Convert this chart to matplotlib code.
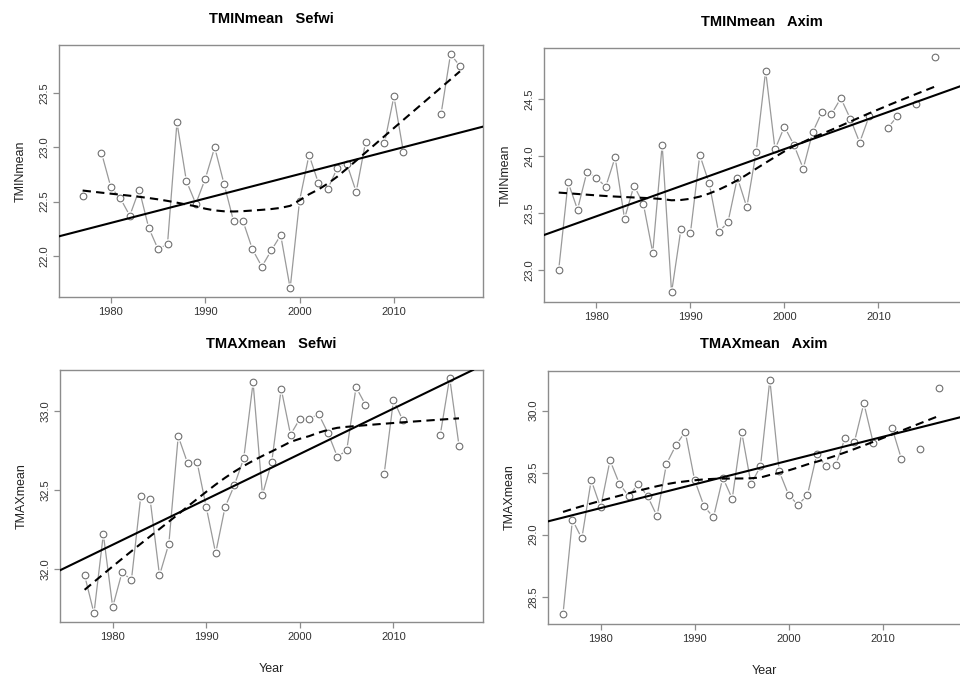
import numpy as np
import matplotlib.pyplot as plt

plt.rcParams['font.family'] = ['Liberation Sans', 'DejaVu Sans']

years = np.arange(1976, 2018)
nan = np.nan

# Sefwi, 1976..2017
tmin_sefwi = [nan, 22.55, nan, 22.95, 22.63, 22.53, 22.37, 22.61, 22.26, 22.06,
              22.11, 23.23, 22.69, 22.48, 22.71, 23.00, 22.66, 22.32, 22.32, 22.06,
              21.90, 22.05, 22.19, 21.70, 22.51, 22.93, 22.67, 22.62, 22.81, 22.85,
              22.59, 23.05, nan, 23.04, 23.47, 22.96, nan, nan, nan, 23.31,
              23.86, 23.75]
tmax_sefwi = [nan, 31.96, 31.72, 32.22, 31.76, 31.98, 31.93, 32.46, 32.44, 31.96,
              32.16, 32.84, 32.67, 32.68, 32.39, 32.10, 32.39, 32.53, 32.70, 33.18,
              32.47, 32.68, 33.14, 32.85, 32.95, 32.95, 32.98, 32.86, 32.71, 32.75,
              33.15, 33.04, nan, 32.60, 33.07, 32.94, nan, nan, nan, 32.85,
              33.21, 32.78]
# Axim, 1976..2017
tmin_axim = [23.00, 23.77, 23.53, 23.86, 23.81, 23.73, 23.99, 23.45, 23.74, 23.58,
             23.15, 24.10, 22.80, 23.36, 23.32, 24.01, 23.76, 23.33, 23.42, 23.81,
             23.55, 24.04, 24.75, 24.06, 24.26, 24.10, 23.89, 24.21, 24.39, 24.37,
             24.51, 24.33, 24.12, 24.35, nan, 24.25, 24.35, nan, 24.46, nan,
             24.87, nan]
tmax_axim = [28.36, 29.12, 28.97, 29.44, 29.22, 29.60, 29.41, 29.31, 29.41, 29.31,
             29.15, 29.57, 29.72, 29.83, 29.44, 29.23, 29.14, 29.46, 29.29, 29.83,
             29.41, 29.55, 30.25, 29.51, 29.32, 29.24, 29.32, 29.65, 29.55, 29.56,
             29.78, 29.75, 30.06, 29.74, nan, 29.86, 29.61, nan, 29.69, nan,
             30.18, nan]

xtick_years = [1980, 1990, 2000, 2010]


def lowess(x, y, f=2 / 3, it=3):
    # robust local-linear smoother, like R's lowess()
    n = len(x)
    ns = max(2, min(n, int(f * n + 1e-7)))
    rw = np.ones(n)
    fit = np.empty(n)
    for k in range(it + 1):
        for i, x0 in enumerate(x):
            d = np.abs(x - x0)
            h = np.sort(d)[ns - 1]
            w = np.where(d <= 0.999 * h, (1 - (d / h) ** 3) ** 3, 0.0)
            w[d <= 0.001 * h] = 1.0
            w = w * rw
            w = w / w.sum()
            xm = np.sum(w * x)
            b = np.sum(w * (x - xm) ** 2)
            if b > 1e-7 * (x.max() - x.min()) ** 2:
                slope = np.sum(w * (x - xm) * y) / b
                fit[i] = np.sum(w * y) + slope * (x0 - xm)
            else:
                fit[i] = np.sum(w * y)
        if k == it:
            break
        res = np.abs(y - fit)
        cmad = 6 * np.median(res)
        rw = np.where(res < 0.999 * cmad, (1 - (res / cmad) ** 2) ** 2, 0.0)
        rw[res <= 0.001 * cmad] = 1.0
    return fit


def panel(fig, rect, vals, title, ylabel, xlim, ylim, yticks, xlabel=None):
    ax = fig.add_axes(rect)
    y = np.array(vals, dtype=float)
    ax.plot(years, y, color='#9a9a9a', lw=0.9, zorder=1)
    ax.plot(years, y, 'o', ms=7.5, mfc='white', mec='none', zorder=2)
    ax.plot(years, y, 'o', ms=4.8, mfc='white', mec='#707070', mew=0.8, zorder=3)

    ok = ~np.isnan(y)
    xs, ys = years[ok].astype(float), y[ok]
    slope, icpt = np.polyfit(xs, ys, 1)
    ax.axline((0, icpt), slope=slope, color='black', lw=1.5, zorder=4)
    ax.plot(xs, lowess(xs, ys), color='black', lw=1.5, ls=(0, (4, 2.5)), zorder=5)

    ax.set_xlim(*xlim)
    ax.set_ylim(*ylim)
    ax.set_xticks(xtick_years)
    ax.set_yticks(yticks)
    ax.set_yticklabels([f'{t:.1f}' for t in yticks], rotation=90, va='center')
    for s in ax.spines.values():
        s.set_color('#8c8c8c')
        s.set_linewidth(1.0)
    ax.tick_params(length=4.5, width=0.9, color='#8c8c8c', labelcolor='#333333',
                   labelsize=8, pad=2.5)
    ax.set_title(title, fontsize=10.5, fontweight='bold', pad=16)
    ax.set_ylabel(ylabel, fontsize=9, labelpad=9, color='#222222')
    if xlabel:
        ax.set_xlabel(xlabel, fontsize=9, labelpad=15, color='#222222')
    return ax


fig = plt.figure(figsize=(9.6, 6.75), dpi=100)

panel(fig, [0.0615, 0.560, 0.4417, 0.3733], tmin_sefwi, 'TMINmean   Sefwi',
      'TMINmean', (1974.5, 2019.45), (21.62, 23.944), [22.0, 22.5, 23.0, 23.5])
panel(fig, [0.5667, 0.5521, 0.4542, 0.3763], tmin_axim, 'TMINmean   Axim',
      'TMINmean', (1974.44, 2020.8), (22.713, 24.949), [23.0, 23.5, 24.0, 24.5])
panel(fig, [0.0625, 0.0781, 0.4406, 0.3738], tmax_sefwi, 'TMAXmean   Sefwi',
      'TMAXmean', (1974.37, 2019.56), (31.663, 33.259), [32.0, 32.5, 33.0], 'Year')
panel(fig, [0.5708, 0.0756, 0.4500, 0.3753], tmax_axim, 'TMAXmean   Axim',
      'TMAXmean', (1974.4, 2020.35), (28.28, 30.323), [28.5, 29.0, 29.5, 30.0], 'Year')

fig.savefig('out.png', dpi=100)
